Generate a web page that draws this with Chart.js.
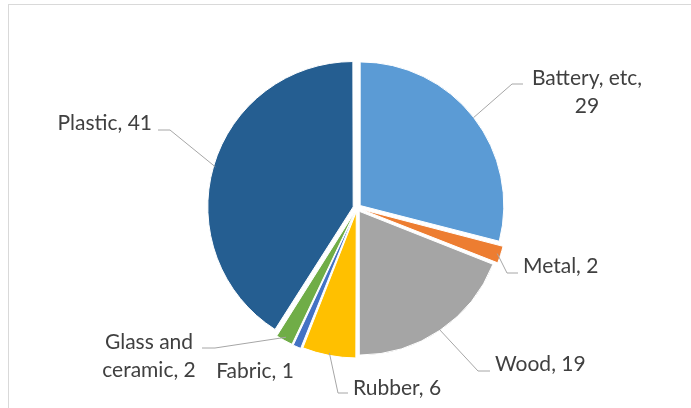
<!DOCTYPE html>
<html>
<head>
<meta charset="utf-8">
<script src="https://cdn.jsdelivr.net/npm/chart.js@4/dist/chart.umd.min.js"></script>
<style>
  html, body { margin: 0; padding: 0; background: #fff; }
  #wrap { position: relative; width: 691px; height: 408px; overflow: hidden; }
  #frame { position: absolute; left: 8px; top: 4px; width: 720px; height: 440px; border: 1px solid #d9d9d9; }
  canvas { position: absolute; left: 0; top: 0; }
</style>
</head>
<body>
<div id="wrap">
  <div id="frame"></div>
  <canvas id="pieChart" width="691" height="408"></canvas>
</div>
<script>
// dados do gráfico
const categories = ['Battery, etc', 'Metal', 'Wood', 'Rubber', 'Fabric', 'Glass and ceramic', 'Plastic'];
const values = [29, 2, 19, 6, 1, 2, 41];
const colors = ['#5b9bd5', '#ed7d31', '#a5a5a5', '#ffc000', '#4472c4', '#70ad47', '#255e91'];

// posição dos rótulos (x, y = linha de base do texto) e linhas de ligação
const labelLayout = [
    { x: 587, y: 85, align: 'center', firstLine: 2, lineGap: 28, leader: [[512, 84], [523, 84]] },
    { x: 523, y: 273, align: 'left', leader: [[507, 273], [518, 273]] },
    { x: 495, y: 371, align: 'left', leader: [[478, 371], [490, 371]] },
    { x: 353, y: 395, align: 'left', leader: [[338, 393], [348, 393]] },
    { x: 255, y: 378, align: 'center', leader: null },
    { x: 149, y: 349, align: 'center', firstLine: 2, lineGap: 28, leader: [[215, 348], [202, 348]] },
    { x: 152, y: 130, align: 'right', leader: [[170, 130], [158, 130]] }
];

const ARC_OFFSET = 16;

const labelsPlugin = {
    id: 'pieLabels',
    afterDatasetsDraw(chart) {
        const ctx = chart.ctx;
        const arcs = chart.getDatasetMeta(0).data;
        ctx.save();
        ctx.font = '21px Lato';
        ctx.fillStyle = '#404040';
        ctx.textBaseline = 'alphabetic';

        arcs.forEach((arc, i) => {
            const lay = labelLayout[i];
            const text = categories[i] + ', ' + values[i];

            if (lay.leader) {
                const mid = (arc.startAngle + arc.endAngle) / 2;
                const r = arc.outerRadius + ARC_OFFSET / 4;
                ctx.beginPath();
                ctx.strokeStyle = '#a6a6a6';
                ctx.lineWidth = 1;
                ctx.moveTo(arc.x + Math.cos(mid) * r, arc.y + Math.sin(mid) * r);
                lay.leader.forEach(p => ctx.lineTo(p[0], p[1]));
                ctx.stroke();
            }

            ctx.textAlign = lay.align;
            if (lay.firstLine) {
                const words = text.split(' ');
                ctx.fillText(words.slice(0, lay.firstLine).join(' '), lay.x, lay.y);
                ctx.fillText(words.slice(lay.firstLine).join(' '), lay.x, lay.y + lay.lineGap);
            } else {
                ctx.fillText(text, lay.x, lay.y);
            }
        });
        ctx.restore();
    }
};

new Chart(document.getElementById('pieChart'), {
    type: 'pie',
    data: {
        labels: categories,
        datasets: [{
            data: values,
            backgroundColor: colors,
            borderColor: '#ffffff',
            borderWidth: 1,
            offset: ARC_OFFSET
        }]
    },
    options: {
        responsive: false,
        animation: false,
        layout: { padding: { top: 56, bottom: 48, left: 100, right: 77 } },
        plugins: {
            legend: { display: false },
            tooltip: { enabled: false }
        }
    },
    plugins: [labelsPlugin]
});
</script>
</body>
</html>
